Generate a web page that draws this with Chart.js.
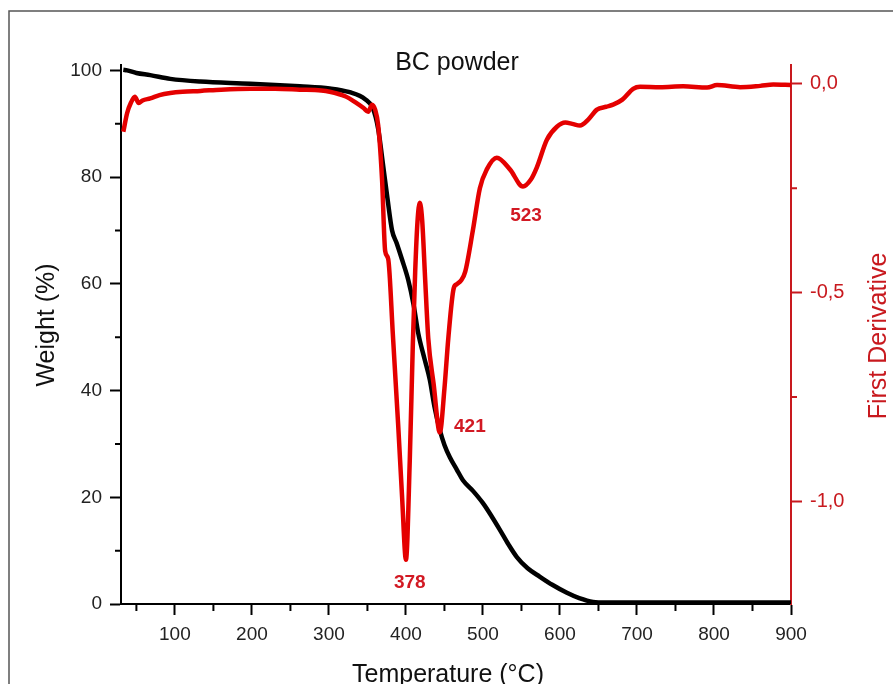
<!DOCTYPE html>
<html>
<head>
<meta charset="utf-8">
<script src="https://cdn.jsdelivr.net/npm/chart.js@4/dist/chart.umd.min.js"></script>
<style>
  body { margin: 0; background: #fff; }
  #wrap { width: 893px; height: 684px; }
</style>
</head>
<body>
<div id="wrap"><canvas id="myChart" width="893" height="684"></canvas></div>
<script>
// Weight curve (black), temperature in °C
const tempW = [33, 38, 50, 68, 94, 133, 198, 262, 301, 327, 347, 357, 364, 370, 376, 382, 388, 395, 403, 410,
  416, 424, 431, 437, 444, 450, 457, 466, 474, 487, 500, 511, 522, 533, 544, 558, 574, 590, 609, 625,
  643, 660, 700, 750, 800, 850, 900]
const weight = [100.1, 100.0, 99.5, 99.1, 98.4, 97.9, 97.5, 97.0, 96.6, 95.9, 94.6, 92.9, 89, 82.6, 76, 70, 67.6, 64.5, 60.7, 56,
  50.7, 46, 42, 37, 32.6, 29.8, 27.5, 25.2, 23.2, 21.2, 18.9, 16.5, 13.9, 11.2, 8.8, 6.7, 5.1, 3.6, 2.1, 1.1,
  0.4, 0.3, 0.3, 0.3, 0.3, 0.3, 0.3]

// First derivative curve (red)
const tempD = [33, 38, 43, 48, 53, 58, 68, 80, 94, 110, 133, 160, 198, 230, 262, 290, 301, 321, 335, 345,
  351, 356, 360, 364, 369, 373, 377, 383, 390, 395, 400, 405, 409, 412, 415, 418, 421, 425, 429, 436,
  444, 450, 455, 462, 466, 472, 477, 487, 496, 505, 518, 535, 552, 562, 570, 583, 596, 607, 616, 626,
  637, 648, 660, 669, 681, 695, 704, 730, 760, 791, 804, 834, 860, 877, 900]
const deriv = [-0.115, -0.07, -0.045, -0.031, -0.046, -0.040, -0.035, -0.027, -0.022, -0.019, -0.017, -0.014, -0.012, -0.012, -0.014, -0.016, -0.019, -0.030, -0.045, -0.058,
  -0.067, -0.050, -0.062, -0.10, -0.23, -0.40, -0.42, -0.60, -0.82, -0.99, -1.14, -0.90, -0.62, -0.45, -0.33, -0.285, -0.325, -0.47, -0.61, -0.72,
  -0.835, -0.73, -0.61, -0.49, -0.48, -0.47, -0.45, -0.35, -0.25, -0.205, -0.177, -0.205, -0.246, -0.23, -0.20, -0.134, -0.103, -0.093, -0.096, -0.100,
  -0.085, -0.062, -0.055, -0.050, -0.038, -0.012, -0.007, -0.008, -0.006, -0.009, -0.003, -0.008, -0.005, -0.002, -0.003]

// Ticks
const xTicks = [100, 200, 300, 400, 500, 600, 700, 800, 900]
const xMinor = [50, 150, 250, 350, 450, 550, 650, 750, 850]
const yTicks = [0, 20, 40, 60, 80, 100]
const yMinor = [10, 30, 50, 70, 90]
const y2Ticks = [-1, -0.5, 0]
const y2Minor = [-0.75, -0.25]

// Peak labels: text, temperature, derivative
const peakText = ['378', '421', '523']
const peakX = [405, 483, 556]
const peakY = [-1.195, -0.822, -0.315]

const RED = 'rgb(228, 0, 0)'
const AXRED = 'rgb(200, 25, 30)'
const FONT = "'Liberation Sans', Arial, sans-serif"

const toPts = (xs, ys) => xs.map((x, i) => ({ x: x, y: ys[i] }))

const text = (ctx, t, x, y, rot) => {
  ctx.save()
  ctx.translate(x, y)
  if (rot) ctx.rotate(rot)
  ctx.fillText(t, 0, 0)
  ctx.restore()
}

// Frame, titles, minor ticks and peak labels
const extras = {
  id: 'extras',
  afterDraw(chart) {
    const ctx = chart.ctx
    const { x, y, y2 } = chart.scales
    const area = chart.chartArea
    ctx.save()

    // outer frame
    ctx.strokeStyle = '#555'
    ctx.lineWidth = 1.5
    ctx.beginPath()
    ctx.moveTo(9, 684)
    ctx.lineTo(9, 11)
    ctx.lineTo(893, 11)
    ctx.stroke()

    // minor ticks
    ctx.lineWidth = 2
    ctx.strokeStyle = '#000'
    ctx.beginPath()
    xMinor.forEach(v => {
      const px = x.getPixelForValue(v)
      ctx.moveTo(px, area.bottom)
      ctx.lineTo(px, area.bottom + 7)
    })
    yMinor.forEach(v => {
      const py = y.getPixelForValue(v)
      ctx.moveTo(area.left, py)
      ctx.lineTo(area.left - 6, py)
    })
    ctx.stroke()
    ctx.strokeStyle = AXRED
    ctx.beginPath()
    y2Minor.forEach(v => {
      const py = y2.getPixelForValue(v)
      ctx.moveTo(area.right, py)
      ctx.lineTo(area.right + 6, py)
    })
    ctx.stroke()

    ctx.textAlign = 'center'
    ctx.textBaseline = 'middle'

    // chart title
    ctx.fillStyle = '#111'
    ctx.font = '25px ' + FONT
    text(ctx, 'BC powder', 457, 63)

    // axis titles
    text(ctx, 'Weight (%)', 47, 325, -Math.PI / 2)
    text(ctx, 'Temperature (°C)', 448, 675)
    ctx.fillStyle = AXRED
    text(ctx, 'First Derivative', 879, 336, -Math.PI / 2)

    // peak labels
    ctx.fillStyle = 'rgb(210, 25, 35)'
    ctx.font = 'bold 19px ' + FONT
    peakText.forEach((t, i) => {
      ctx.fillText(t, x.getPixelForValue(peakX[i]), y2.getPixelForValue(peakY[i]))
    })
    ctx.restore()
  }
}

const config = {
  type: 'line',
  data: {
    datasets: [{
      label: 'First Derivative',
      data: toPts(tempD, deriv),
      yAxisID: 'y2',
      borderColor: RED,
      borderWidth: 4.5,
      pointRadius: 0,
      cubicInterpolationMode: 'monotone',
      order: 0
    }, {
      label: 'Weight',
      data: toPts(tempW, weight),
      yAxisID: 'y',
      borderColor: '#000',
      borderWidth: 4.5,
      pointRadius: 0,
      cubicInterpolationMode: 'monotone',
      order: 1
    }]
  },
  options: {
    responsive: false,
    animation: false,
    layout: { padding: { top: 65, left: 0, right: 0, bottom: 0 } },
    plugins: { legend: { display: false }, tooltip: { enabled: false } },
    scales: {
      x: {
        type: 'linear',
        min: 30,
        max: 900,
        afterFit: s => { s.height = 80 },
        afterBuildTicks: s => { s.ticks = xTicks.map(v => ({ value: v })) },
        border: { display: true, color: '#000', width: 2 },
        grid: { drawOnChartArea: false, tickLength: 11, tickColor: '#000', tickWidth: 2 },
        ticks: { color: '#222', font: { family: FONT, size: 19 }, padding: 8, maxRotation: 0 }
      },
      y: {
        position: 'left',
        min: 0,
        max: 101,
        afterFit: s => { s.width = 121 },
        afterBuildTicks: s => { s.ticks = yTicks.map(v => ({ value: v })) },
        border: { display: true, color: '#000', width: 2 },
        grid: { drawOnChartArea: false, tickLength: 11, tickColor: '#000', tickWidth: 2 },
        ticks: { color: '#222', font: { family: FONT, size: 19 }, padding: 8 }
      },
      y2: {
        position: 'right',
        min: -1.246,
        max: 0.045,
        afterFit: s => { s.width = 102 },
        afterBuildTicks: s => { s.ticks = y2Ticks.map(v => ({ value: v })) },
        border: { display: true, color: AXRED, width: 2 },
        grid: { drawOnChartArea: false, tickLength: 11, tickColor: AXRED, tickWidth: 2 },
        ticks: {
          color: AXRED,
          font: { family: FONT, size: 20 },
          padding: 8,
          callback: v => v.toFixed(1).replace('.', ',')
        }
      }
    }
  },
  plugins: [extras]
}

let chart = new Chart(document.getElementById('myChart'), config)
</script>
</body>
</html>
